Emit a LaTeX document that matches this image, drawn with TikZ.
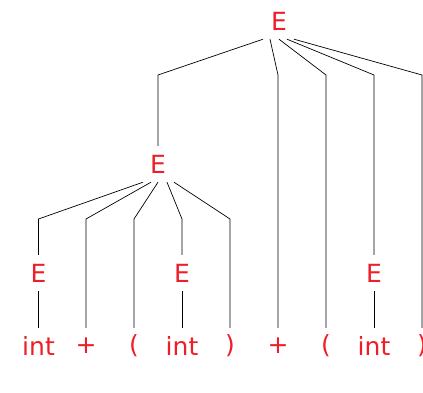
\documentclass[tikz,border=0pt]{standalone}
\usepackage{fontspec}
\setmainfont{DejaVu Sans}
\definecolor{symred}{RGB}{238,30,40}
\begin{document}
\begin{tikzpicture}[x=1pt,y=-1pt,
  sym/.style={text=symred,font=\fontsize{25}{28}\selectfont,inner sep=0pt,minimum height=36pt,anchor=center},
  edge/.style={draw=black,line width=0.7pt}]
\useasboundingbox (0,0) rectangle (423,393);
% nodes
\node[sym] (r) at (279,21) {E};
\node[sym] (m) at (158,164) {E};
\node[sym] (e1) at (38.5,273) {E};
\node[sym] (e2) at (182,273) {E};
\node[sym] (e3) at (374,273) {E};
\node[sym] (l1) at (38.5,346) {int};
\node[sym] (l2) at (86,346) {+};
\node[sym] (l3) at (134,346) {(};
\node[sym] (l4) at (182,346) {int};
\node[sym] (l5) at (230,346) {)};
\node[sym] (l6) at (278,346) {+};
\node[sym] (l7) at (326,346) {(};
\node[sym] (l8) at (374,346) {int};
\node[sym] (l9) at (422,346) {)};
% bend points
\coordinate (rb1) at (158,75);
\coordinate (rb2) at (278,75);
\coordinate (rb3) at (326,75);
\coordinate (rb4) at (374,75);
\coordinate (rb5) at (422,75);
\coordinate (mb1) at (38.5,219);
\coordinate (mb2) at (86,219);
\coordinate (mb3) at (134,219);
\coordinate (mb4) at (182,219);
\coordinate (mb5) at (230,219);
% root edges
\draw[edge] ([xshift=-16pt]r.south) -- (rb1) -- (m.north);
\draw[edge] ([xshift=-9pt]r.south) -- (rb2) -- (l6.north);
\draw[edge] ([xshift=0pt]r.south) -- (rb3) -- (l7.north);
\draw[edge] ([xshift=8pt]r.south) -- (rb4) -- (e3.north);
\draw[edge] ([xshift=15pt]r.south) -- (rb5) -- (l9.north);
% middle edges
\draw[edge] ([xshift=-15pt]m.south) -- (mb1) -- (e1.north);
\draw[edge] ([xshift=-7pt]m.south) -- (mb2) -- (l2.north);
\draw[edge] ([xshift=0pt]m.south) -- (mb3) -- (l3.north);
\draw[edge] ([xshift=9pt]m.south) -- (mb4) -- (e2.north);
\draw[edge] ([xshift=16pt]m.south) -- (mb5) -- (l5.north);
% unary edges
\draw[edge] (e1.south) -- (l1.north);
\draw[edge] (e2.south) -- (l4.north);
\draw[edge] (e3.south) -- (l8.north);
\end{tikzpicture}
\end{document}
